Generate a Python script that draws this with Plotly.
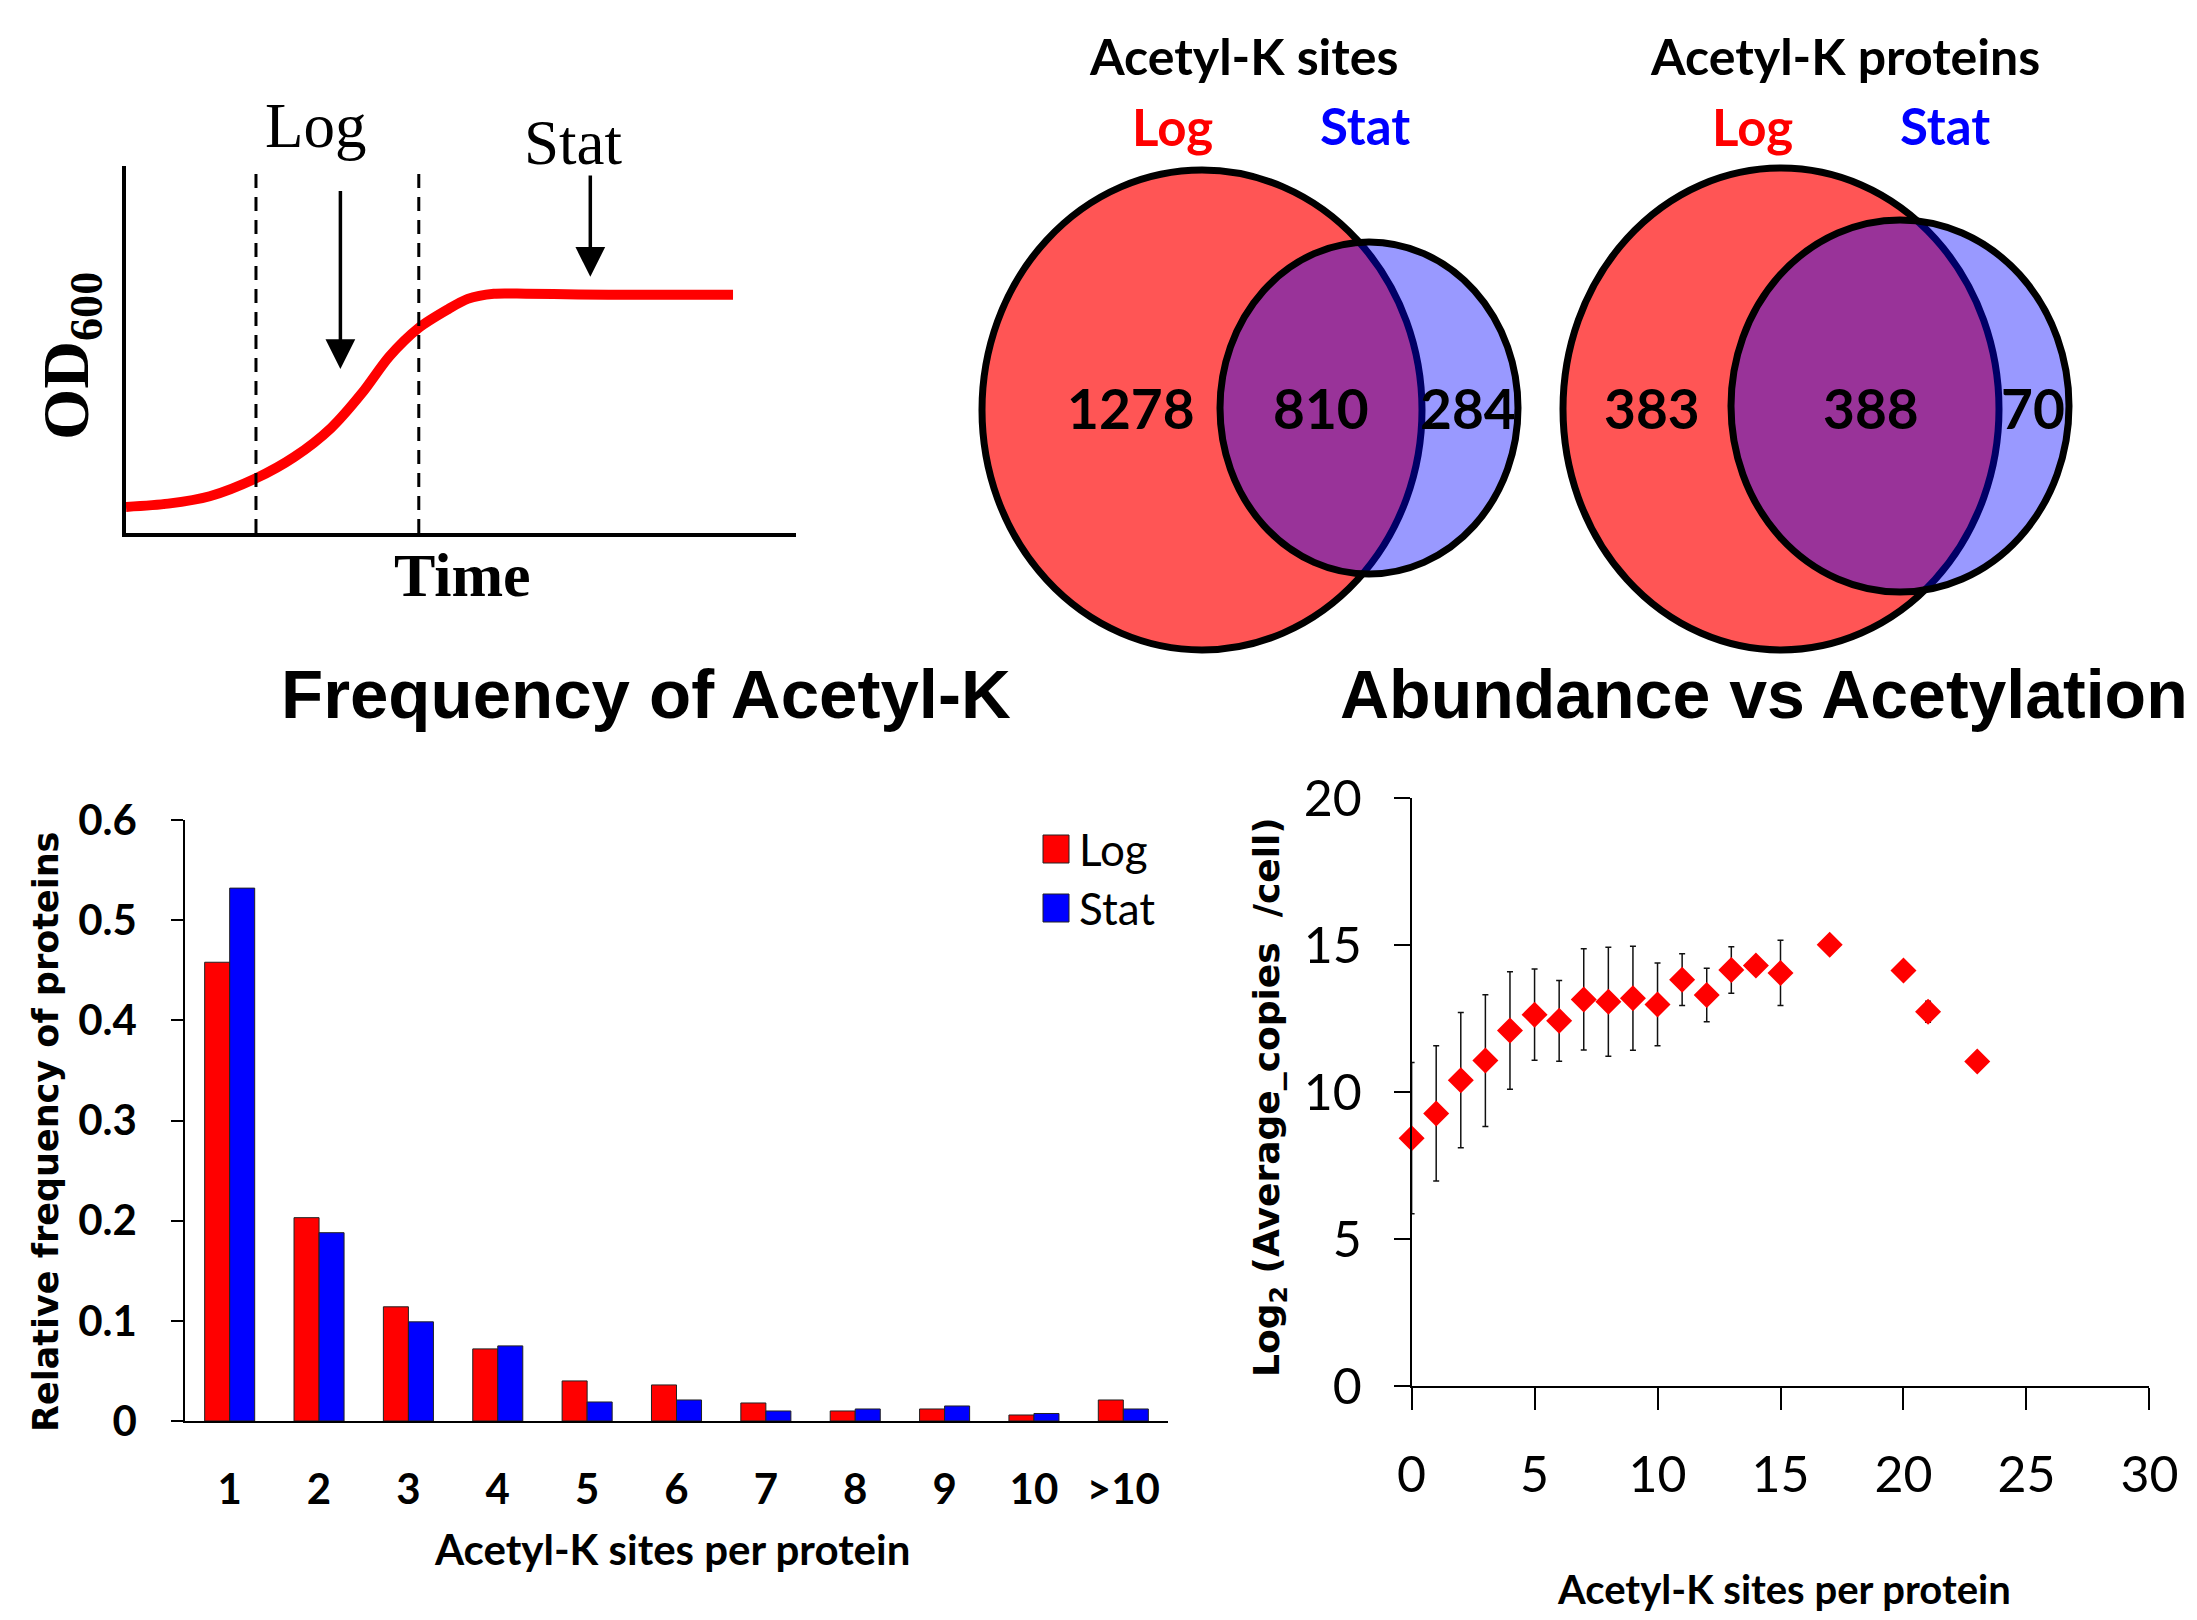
import plotly.graph_objects as go

W, H = 2197, 1620

# ---------------- data ----------------
# Growth curve schematic (arbitrary units 0-100)
growth_time = [0, 6.3, 12.5, 19.4, 25.1, 30.6, 35.3, 39.3, 43.7, 47.9, 51.0, 54.9, 59.7, 67.5, 75.4, 90.6]
growth_od = [7.1, 8.0, 10.0, 14.9, 20.7, 28.6, 38.3, 48.1, 55.9, 60.8, 63.8, 65.2, 65.2, 65.0, 64.9, 64.9]
phase_bounds = [19.4, 43.7]
phase_labels = ["Log", "Stat"]
phase_arrow_x = [32.0, 69.3]
phase_arrow_top = [93.6, 97.8]
phase_arrow_tip = [44.7, 69.8]

# Venn diagrams
venn_titles = ["Acetyl-K sites", "Acetyl-K proteins"]
venn_log_only = [1278, 383]
venn_both = [810, 388]
venn_stat_only = [284, 70]

# Frequency bar chart
bar_categories = ["1", "2", "3", "4", "5", "6", "7", "8", "9", "10", ">10"]
log_freq = [0.458, 0.203, 0.114, 0.072, 0.040, 0.036, 0.018, 0.010, 0.012, 0.006, 0.021]
stat_freq = [0.532, 0.188, 0.099, 0.075, 0.019, 0.021, 0.010, 0.012, 0.015, 0.0075, 0.012]

# Abundance vs acetylation
sites = [0, 1, 2, 3, 4, 5, 6, 7, 8, 9, 10, 11, 12, 13, 14, 15, 17, 20, 21, 23]
log2_copies = [8.43, 9.27, 10.40, 11.07, 12.09, 12.63, 12.42, 13.15, 13.07, 13.19,
               12.98, 13.82, 13.30, 14.15, 14.30, 14.05, 15.01, 14.13, 12.73, 11.04]
log2_err = [2.57, 2.30, 2.30, 2.24, 2.00, 1.55, 1.37, 1.72, 1.85, 1.77,
            1.41, 0.88, 0.91, 0.79, 0.0, 1.11, 0.0, 0.0, 0.36, 0.0]

# ---------------- helpers ----------------
def px(x):
    return x / W

def py(y):
    return 1 - y / H

NARROW = "Lato, Noto Sans, sans-serif"
SANS = "Liberation Sans, Arial, sans-serif"
WIDE = "DejaVu Sans, Verdana, sans-serif"
SERIF = "Liberation Serif, Times New Roman, serif"

fig = go.Figure()

# ---- bar chart ----
fig.add_trace(go.Bar(x=bar_categories, y=log_freq, name="Log", marker=dict(color="#FF0000", line=dict(color="#222", width=1)),
                     xaxis="x", yaxis="y", showlegend=False))
fig.add_trace(go.Bar(x=bar_categories, y=stat_freq, name="Stat", marker=dict(color="#0000FF", line=dict(color="#222", width=1)),
                     xaxis="x", yaxis="y", showlegend=False))

# ---- scatter ----
fig.add_trace(go.Scatter(x=sites, y=log2_copies, mode="markers", xaxis="x2", yaxis="y2",
                         marker=dict(symbol="diamond", color="#FF0000", size=20),
                         error_y=dict(type="data", array=log2_err, visible=True, color="#111", thickness=1.5, width=3),
                         cliponaxis=False, showlegend=False))

# ---- growth curve ----
fig.add_trace(go.Scatter(x=growth_time, y=growth_od, mode="lines", xaxis="x3", yaxis="y3",
                         line=dict(color="#FF0000", width=10, shape="spline", smoothing=0.8),
                         showlegend=False, cliponaxis=False))

shapes = []
annotations = []

# dashed phase boundaries
for b in phase_bounds:
    shapes.append(dict(type="line", xref="x3", yref="y3", x0=b, x1=b, y0=0, y1=100,
                       line=dict(color="black", width=3, dash="14px,9px")))
# arrows and phase labels
label_y = [126, 143]
label_x = [315, 573]
for i, lab in enumerate(phase_labels):
    annotations.append(dict(xref="x3", yref="y3", x=phase_arrow_x[i], y=phase_arrow_tip[i],
                            axref="x3", ayref="y3", ax=phase_arrow_x[i], ay=phase_arrow_top[i],
                            text="", showarrow=True, arrowhead=2, arrowsize=1.7, arrowwidth=3.5,
                            arrowcolor="black", standoff=0))
    annotations.append(dict(xref="paper", yref="paper", x=px(label_x[i]), y=py(label_y[i]),
                            text=lab, showarrow=False, xanchor="center", yanchor="middle",
                            font=dict(family=SERIF, size=63, color="black")))
annotations.append(dict(xref="paper", yref="paper", x=px(462), y=py(575), text="<b>Time</b>",
                        showarrow=False, xanchor="center", yanchor="middle",
                        font=dict(family=SERIF, size=62, color="black")))
annotations.append(dict(xref="paper", yref="paper", x=px(70), y=py(356), text="<b>OD<sub>600</sub></b>",
                        showarrow=False, xanchor="center", yanchor="middle", textangle=-90,
                        font=dict(family=SERIF, size=66, color="black")))

# ---- venn diagrams ----
venn_geom = [
    dict(red=(1202, 410, 220, 240), blue=(1369, 408, 149, 166), title_x=1243, log_x=1172, stat_x=1365,
         num_x=(1131, 1321, 1468)),
    dict(red=(1781, 409, 218, 241), blue=(1900, 406, 169, 186), title_x=1845, log_x=1752, stat_x=1945,
         num_x=(1652, 1871, 2033)),
]
for i, g in enumerate(venn_geom):
    cx, cy, rx, ry = g["red"]
    shapes.append(dict(type="circle", xref="paper", yref="paper", x0=px(cx - rx), x1=px(cx + rx),
                       y0=py(cy + ry), y1=py(cy - ry), fillcolor="#FF5555",
                       line=dict(color="black", width=7), layer="above"))
    cx, cy, rx, ry = g["blue"]
    shapes.append(dict(type="circle", xref="paper", yref="paper", x0=px(cx - rx), x1=px(cx + rx),
                       y0=py(cy + ry), y1=py(cy - ry), fillcolor="rgba(0,0,255,0.4)",
                       line=dict(color="black", width=7), layer="above"))
    annotations.append(dict(xref="paper", yref="paper", x=px(g["title_x"]), y=py(56), text="<b>%s</b>" % venn_titles[i],
                            showarrow=False, xanchor="center", yanchor="middle",
                            font=dict(family=NARROW, size=50, color="black")))
    annotations.append(dict(xref="paper", yref="paper", x=px(g["log_x"]), y=py(127), text="<b>Log</b>",
                            showarrow=False, xanchor="center", yanchor="middle",
                            font=dict(family=NARROW, size=51, color="#FF0000")))
    annotations.append(dict(xref="paper", yref="paper", x=px(g["stat_x"]), y=py(125), text="<b>Stat</b>",
                            showarrow=False, xanchor="center", yanchor="middle",
                            font=dict(family=NARROW, size=51, color="#0000FF")))
    vals = [venn_log_only[i], venn_both[i], venn_stat_only[i]]
    for nx, v in zip(g["num_x"], vals):
        annotations.append(dict(xref="paper", yref="paper", x=px(nx), y=py(408), text="<b>%d</b>" % v,
                                showarrow=False, xanchor="center", yanchor="middle",
                                font=dict(family=NARROW, size=55, color="black")))

# ---- panel titles ----
annotations.append(dict(xref="paper", yref="paper", x=px(646), y=py(694), text="<b>Frequency of Acetyl-K</b>",
                        showarrow=False, xanchor="center", yanchor="middle",
                        font=dict(family=SANS, size=69, color="black")))
annotations.append(dict(xref="paper", yref="paper", x=px(1338), y=py(694), text="<b>Abundance vs Acetylation</b>",
                        showarrow=False, xanchor="left", yanchor="middle",
                        font=dict(family=SANS, size=68, color="black")))

# ---- bar chart titles & legend ----
annotations.append(dict(xref="paper", yref="paper", x=px(672), y=py(1549), text="<b>Acetyl-K sites per protein</b>",
                        showarrow=False, xanchor="center", yanchor="middle",
                        font=dict(family=NARROW, size=42, color="black")))
annotations.append(dict(xref="paper", yref="paper", x=px(46), y=py(1132), text="<b>Relative frequency of proteins</b>",
                        showarrow=False, xanchor="center", yanchor="middle", textangle=-90,
                        font=dict(family=WIDE, size=35, color="black")))
legend_items = [("Log", "#FF0000", 849), ("Stat", "#0000FF", 908)]
for name, col, yc in legend_items:
    shapes.append(dict(type="rect", xref="paper", yref="paper", x0=px(1043), x1=px(1069),
                       y0=py(yc + 14), y1=py(yc - 14), fillcolor=col, line=dict(color="#222", width=1)))
    annotations.append(dict(xref="paper", yref="paper", x=px(1077), y=py(yc), text=name,
                            showarrow=False, xanchor="left", yanchor="middle",
                            font=dict(family=NARROW, size=44, color="black")))

# ---- scatter titles ----
annotations.append(dict(xref="paper", yref="paper", x=px(1784), y=py(1589), text="<b>Acetyl-K sites per protein</b>",
                        showarrow=False, xanchor="center", yanchor="middle",
                        font=dict(family=NARROW, size=40, color="black")))
annotations.append(dict(xref="paper", yref="paper", x=px(1269), y=py(1097),
                        text="<b>Log<sub>2</sub> (Average_copies  /cell)</b>",
                        showarrow=False, xanchor="center", yanchor="middle", textangle=-90,
                        font=dict(family=WIDE, size=36, color="black")))

fig.update_layout(
    template="none",
    width=W, height=H, margin=dict(l=0, r=0, t=0, b=0, pad=0, autoexpand=False),
    paper_bgcolor="white", plot_bgcolor="rgba(0,0,0,0)",
    barmode="group", bargap=0.44, bargroupgap=0,
    shapes=shapes, annotations=annotations,
    xaxis=dict(domain=[px(185), px(1168)], range=[-0.5, 10.5], type="category", automargin=False,
               showline=True, linecolor="black", linewidth=1.5, showgrid=False, zeroline=False,
               ticks="outside", ticklen=31, tickcolor="rgba(0,0,0,0)",
               tickfont=dict(family=NARROW, size=42, color="black", weight="bold"), anchor="y"),
    yaxis=dict(domain=[py(1421), py(820)], range=[0, 0.6], dtick=0.1, automargin=False,
               showline=True, linecolor="black", linewidth=1.5, showgrid=False, zeroline=False,
               ticks="outside", ticklen=12, tickwidth=1.5, tickcolor="black", ticklabelstandoff=26,
               tickfont=dict(family=NARROW, size=42, color="black", weight="bold"), anchor="x"),
    xaxis2=dict(domain=[px(1411.6), px(2149.4)], range=[0, 30], dtick=5, automargin=False,
                showline=True, linecolor="black", linewidth=1.5, showgrid=False, zeroline=False,
                ticks="outside", ticklen=22, tickwidth=1.5, tickcolor="black", ticklabelstandoff=22,
                tickfont=dict(family=NARROW, size=50, color="black"), anchor="y2"),
    yaxis2=dict(domain=[py(1386), py(798)], range=[0, 20], dtick=5, automargin=False,
                showline=True, linecolor="black", linewidth=1.5, showgrid=False, zeroline=False,
                ticks="outside", ticklen=16, tickwidth=1.5, tickcolor="black", ticklabelstandoff=22,
                tickfont=dict(family=NARROW, size=50, color="black"), anchor="x2"),
    xaxis3=dict(domain=[px(126), px(796)], range=[0, 100], showline=True, linecolor="black", linewidth=4,
                automargin=False, showticklabels=False, ticks="", showgrid=False, zeroline=False, anchor="y3"),
    yaxis3=dict(domain=[py(533), py(166)], range=[0, 100], showline=True, linecolor="black", linewidth=4,
                automargin=False, showticklabels=False, ticks="", showgrid=False, zeroline=False, anchor="x3"),
)

fig.write_html("out.html", config={"displayModeBar": False},
               post_script="document.body.style.margin='0px';")
